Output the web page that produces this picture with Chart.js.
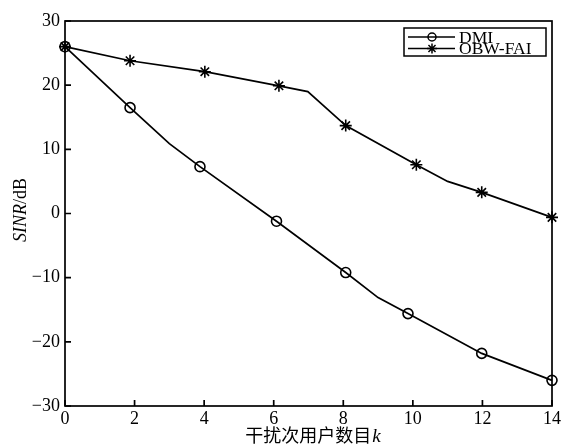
<!DOCTYPE html>
<html>
<head>
<meta charset="utf-8">
<script src="https://cdn.jsdelivr.net/npm/chart.js@4"></script>
<style>
  html, body { margin: 0; padding: 0; background: #fff; }
  #wrap { width: 569px; height: 447px; }
</style>
</head>
<body>
<div id="wrap"><canvas id="sinr-chart" width="569" height="447"></canvas></div>
<script>
// 读图得到的数据 (x 为干扰次用户数目 k, y 为 SINR/dB)
const dmiK = [0, 1.87, 3.0, 3.88, 6.08, 8.07, 9.0, 9.86, 11.98, 14];
const dmiSinr = [26, 16.5, 10.9, 7.3, -1.2, -9.2, -13.1, -15.6, -21.8, -26.0];
const dmiMarker = [true, true, false, true, true, true, false, true, true, true];

const obwK = [0, 1.87, 4.02, 6.15, 6.98, 8.07, 10.1, 11.0, 11.98, 14];
const obwSinr = [26, 23.8, 22.1, 19.9, 19.0, 13.7, 7.6, 5.0, 3.3, -0.6];
const obwMarker = [true, true, true, true, false, true, true, false, true, true];

const xTicks = [0, 2, 4, 6, 8, 10, 12, 14];
const yTicks = [-30, -20, -10, 0, 10, 20, 30];
const seriesNames = ["DMI", "OBW-FAI"];

const SERIF = '"Liberation Serif", "Times New Roman", serif';

function toPoints(xs, ys) {
  return xs.map((x, i) => ({ x, y: ys[i] }));
}

// 画图标记: 圆圈或星号
function drawMarker(ctx, style, x, y, r) {
  ctx.save();
  ctx.strokeStyle = "#000";
  ctx.lineWidth = 1.5;
  ctx.beginPath();
  if (style === "circle") {
    ctx.arc(x, y, r, 0, Math.PI * 2);
  } else {
    const d = r * Math.SQRT1_2;
    ctx.moveTo(x - r, y); ctx.lineTo(x + r, y);
    ctx.moveTo(x, y - r); ctx.lineTo(x, y + r);
    ctx.moveTo(x - d, y - d); ctx.lineTo(x + d, y + d);
    ctx.moveTo(x - d, y + d); ctx.lineTo(x + d, y - d);
  }
  ctx.stroke();
  ctx.restore();
}

// 边框、向内刻度、图例和坐标轴标题
const framePlugin = {
  id: "frame",
  afterDraw(chart) {
    const { ctx, chartArea: a, scales } = chart;
    ctx.save();
    ctx.strokeStyle = "#000";
    ctx.lineWidth = 1.7;
    ctx.strokeRect(a.left, a.top, a.right - a.left, a.bottom - a.top);

    ctx.beginPath();
    xTicks.forEach((t) => {
      const px = scales.x.getPixelForValue(t);
      ctx.moveTo(px, a.bottom);
      ctx.lineTo(px, a.bottom - 6);
    });
    yTicks.forEach((t) => {
      const py = scales.y.getPixelForValue(t);
      ctx.moveTo(a.left, py);
      ctx.lineTo(a.left + 6, py);
    });
    ctx.stroke();

    // 图例
    const lx = 404, ly = 28, lw = 142, lh = 28;
    ctx.fillStyle = "#fff";
    ctx.fillRect(lx, ly, lw, lh);
    ctx.lineWidth = 1.5;
    ctx.strokeRect(lx, ly, lw, lh);
    const styles = ["circle", "star"];
    ctx.font = "17.5px " + SERIF;
    ctx.textBaseline = "middle";
    ctx.textAlign = "left";
    seriesNames.forEach((name, i) => {
      const yy = ly + 9 + i * 11.5;
      ctx.beginPath();
      ctx.moveTo(lx + 4, yy);
      ctx.lineTo(lx + 51, yy);
      ctx.stroke();
      drawMarker(ctx, styles[i], lx + 28, yy, styles[i] === "circle" ? 4 : 5);
      ctx.fillStyle = "#000";
      ctx.fillText(name, lx + 55, yy + 1);
    });

    // y 轴标题: SINR(斜体)/dB
    ctx.save();
    ctx.translate(26, 210);
    ctx.rotate(-Math.PI / 2);
    ctx.textBaseline = "alphabetic";
    const partA = "SINR", partB = "/dB";
    ctx.font = "italic 18px " + SERIF;
    const wA = ctx.measureText(partA).width;
    ctx.font = "18px " + SERIF;
    const wB = ctx.measureText(partB).width;
    const start = -(wA + wB) / 2;
    ctx.font = "italic 18px " + SERIF;
    ctx.fillText(partA, start, 0);
    ctx.font = "18px " + SERIF;
    ctx.fillText(partB, start + wA, 0);
    ctx.restore();

    // x 轴标题: 干扰次用户数目k(斜体)
    const cn = "干扰次用户数目", kk = "k";
    ctx.textBaseline = "alphabetic";
    ctx.font = '18px "Noto Sans CJK SC", sans-serif';
    const wc = ctx.measureText(cn).width;
    ctx.font = "italic 19px " + SERIF;
    const wk = ctx.measureText(kk).width;
    const sx = (a.left + a.right) / 2 - (wc + wk) / 2 + 4;
    ctx.font = '18px "Noto Sans CJK SC", sans-serif';
    ctx.fillText(cn, sx, 442);
    ctx.font = "italic 19px " + SERIF;
    ctx.fillText(kk, sx + wc + 1, 442);
    ctx.restore();
  },
};

function makeDataset(label, xs, ys, marks, style) {
  return {
    label,
    data: toPoints(xs, ys),
    borderColor: "#000",
    borderWidth: 1.7,
    backgroundColor: "rgba(0,0,0,0)",
    pointStyle: style,
    pointRadius: marks.map((m) => (m ? (style === "star" ? 6 : 5) : 0)),
    pointBorderWidth: 1.6,
    pointBorderColor: "#000",
    pointBackgroundColor: "rgba(0,0,0,0)",
    tension: 0,
    clip: false,
  };
}

window.addEventListener("DOMContentLoaded", () => {
  const canvas = document.querySelector("#sinr-chart");
  new Chart(canvas, {
    type: "line",
    data: {
      datasets: [
        makeDataset(seriesNames[0], dmiK, dmiSinr, dmiMarker, "circle"),
        makeDataset(seriesNames[1], obwK, obwSinr, obwMarker, "star"),
      ],
    },
    options: {
      responsive: false,
      animation: false,
      events: [],
      layout: { padding: { left: 0, top: 21, right: 17, bottom: 0 } },
      plugins: {
        legend: { display: false },
        tooltip: { enabled: false },
      },
      scales: {
        x: {
          type: "linear",
          min: 0,
          max: 14,
          afterFit: (s) => { s.height = 41; },
          afterBuildTicks: (s) => { s.ticks = xTicks.map((v) => ({ value: v })); },
          grid: { display: false, drawTicks: false },
          border: { display: false },
          ticks: {
            color: "#000",
            padding: 2,
            font: { family: SERIF, size: 18 },
          },
        },
        y: {
          type: "linear",
          min: -30,
          max: 30,
          afterFit: (s) => { s.width = 65; },
          afterBuildTicks: (s) => { s.ticks = yTicks.map((v) => ({ value: v })); },
          grid: { display: false, drawTicks: false },
          border: { display: false },
          ticks: {
            color: "#000",
            padding: 5,
            font: { family: SERIF, size: 18 },
            callback: (v) => String(v).replace("-", "\u2212"),
          },
        },
      },
    },
    plugins: [framePlugin],
  });
});
</script>
</body>
</html>
